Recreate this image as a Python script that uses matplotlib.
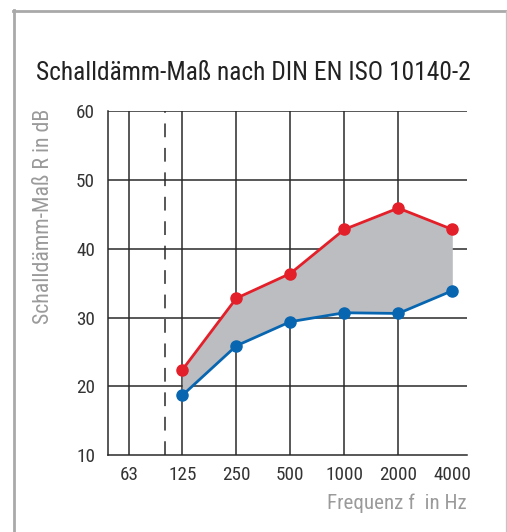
import matplotlib
matplotlib.use("Agg")
import matplotlib.pyplot as plt
from matplotlib.lines import Line2D
from matplotlib import font_manager as fm
import numpy as np

freqs = [63, 125, 250, 500, 1000, 2000, 4000]
freq_labels = ["63", "125", "250", "500", "1000", "2000", "4000"]
data_freqs = [125, 250, 500, 1000, 2000, 4000]
red_values = [22.4, 32.8, 36.4, 42.8, 45.9, 42.8]
blue_values = [18.7, 25.9, 29.4, 30.7, 30.6, 33.9]
y_ticks = [10, 20, 30, 40, 50, 60]
dashed_freq = 100

title = "Schalldämm-Maß nach DIN EN ISO 10140-2"
ylabel = "Schalldämm-Maß R in dB"
xlabel = "Frequenz f  in Hz"

# pick a condensed / narrow font if one is installed
def find_condensed():
    prefs = ["Liberation Sans Narrow", "Roboto Condensed", "Open Sans Condensed",
             "Noto Sans Condensed", "DejaVu Sans Condensed", "Arial Narrow"]
    entries = fm.fontManager.ttflist
    for p in prefs:
        for e in entries:
            if e.name == p and e.style == "normal" and str(e.weight) in ("400", "normal", "regular", "book"):
                return e
    for e in entries:
        n = e.name.lower()
        if ("narrow" in n or "condensed" in n or e.stretch in ("condensed", "semi-condensed")) \
                and e.style == "normal" and str(e.weight) in ("400", "normal", "regular", "book") \
                and "mono" not in n and "serif" not in n:
            return e
    return None

cond = find_condensed()
if cond is not None:
    def fprop(size):
        return fm.FontProperties(fname=cond.fname, size=size)
else:
    def fprop(size):
        return fm.FontProperties(family=["Liberation Sans", "DejaVu Sans"], size=size)

W, H = 507, 532
fig = plt.figure(figsize=(W / 100, H / 100), dpi=100)
renderer = fig.canvas.get_renderer()

def fx(px):
    return px / W

def fy(py):
    return 1 - py / H

def fit_size(text, target_w, start=14.0):
    s = start
    for _ in range(6):
        t = fig.text(0, 0, text, fontproperties=fprop(s))
        w = t.get_window_extent(renderer).width
        t.remove()
        s = s * target_w / w
    return s

title_size = fit_size(title, 434, 18)
tick_size = fit_size("4000", 38, 13)
xlabel_size = fit_size(xlabel, 139, 13)
ylabel_size = fit_size(ylabel, 215, 13)

ax = fig.add_axes([fx(108.3), fy(455.3), fx(466.7) - fx(108.3), fy(111) - fy(455.3)])

def pos(f):
    return np.log2(f / 125.0) + 1

xs = [pos(f) for f in data_freqs]
ax.set_xlim(1 + (108.3 - 182.3) / 54.0, 1 + (466.7 - 182.3) / 54.0)
ax.set_ylim(10, 60)

gc = "#2a2a2a"
for f in freqs[:-1]:
    ax.axvline(pos(f), color=gc, lw=1.1, zorder=1)
for y in y_ticks[1:]:
    ax.axhline(y, color=gc, lw=1.1, zorder=1)
ax.axvline(pos(dashed_freq), color=gc, lw=1.1, dashes=(9, 7), zorder=1)

ax.fill_between(xs, blue_values, red_values, color="#bcbdc1", lw=0, zorder=2)
ax.plot(xs, red_values, color="#e3202a", lw=2, marker="o", ms=8, zorder=4)
ax.plot(xs, blue_values, color="#0866b1", lw=2, marker="o", ms=8, zorder=4)

for s in ["top", "right"]:
    ax.spines[s].set_visible(False)
for s in ["left", "bottom"]:
    ax.spines[s].set_color(gc)
    ax.spines[s].set_linewidth(1.1)

ax.set_yticks(y_ticks)
ax.set_yticklabels([str(v) for v in y_ticks])
ax.set_xticks([pos(f) for f in freqs])
ax.set_xticklabels(freq_labels)
ax.tick_params(axis="both", length=0, labelcolor="#333333")
for lab in ax.get_xticklabels() + ax.get_yticklabels():
    lab.set_fontproperties(fprop(tick_size))
ax.tick_params(axis="y", pad=9.5)
ax.tick_params(axis="x", pad=7.5)

fig.text(fx(36), fy(73), title, fontproperties=fprop(title_size), color="#222222", ha="left", va="center")
fig.text(fx(43.5), fy(216), ylabel, fontproperties=fprop(ylabel_size), color="#9a9a9a", rotation=90, ha="center", va="center")
fig.text(fx(466.7), fy(503), xlabel, fontproperties=fprop(xlabel_size), color="#9a9a9a", ha="right", va="center")

# frame
fig.add_artist(Line2D([fx(14), fx(14)], [fy(10), 0], color="#a9a9a9", lw=2, transform=fig.transFigure))
fig.add_artist(Line2D([fx(13), fx(506)], [fy(11), fy(11)], color="#a9a9a9", lw=2, transform=fig.transFigure))
fig.add_artist(Line2D([fx(505.5), fx(505.5)], [fy(11), 0], color="#c4c4c4", lw=0.9, transform=fig.transFigure))

fig.savefig("out.png", dpi=100)
